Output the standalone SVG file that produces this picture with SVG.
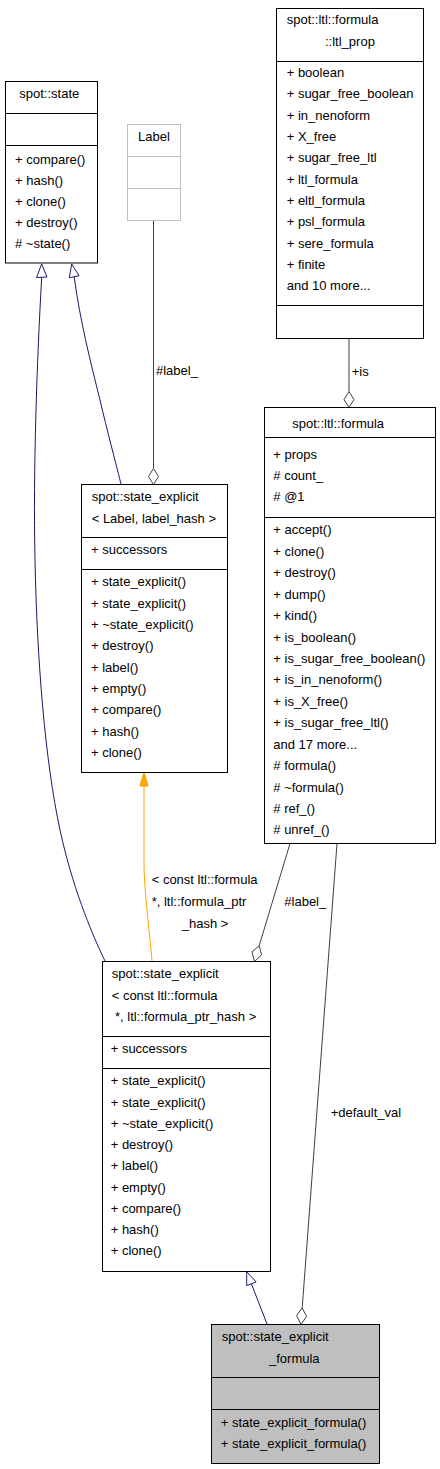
<svg xmlns="http://www.w3.org/2000/svg" width="440" height="1469" viewBox="0 0 440 1469">
<style>
text{font-family:"Liberation Sans",Arial,sans-serif;font-size:13px;fill:#000}
.box{fill:#fff;stroke:#000;stroke-width:1}
.gbox{fill:#fff;stroke:#bfbfbf;stroke-width:1}
.cur{fill:#bfbfbf;stroke:#000;stroke-width:1}
.div{stroke:#000;stroke-width:1}
.gdiv{stroke:#bfbfbf;stroke-width:1}
.gen{fill:none;stroke:#191970;stroke-width:1}
.genh{fill:#fff;stroke:#191970;stroke-width:1}
.tpl{fill:none;stroke:#ffa500;stroke-width:1}
.tplh{fill:#ffa500;stroke:#ffa500;stroke-width:1}
.use{fill:none;stroke:#404040;stroke-width:1}
.useh{fill:#fff;stroke:#404040;stroke-width:1}
.mid{text-anchor:middle}
</style>
<g id="connectors">
<path class="gen" d="M41.7,277 C37,360 33,470 35,560 C37,660 45,760 60,830 C72,885 90,930 105,961"/>
<polygon class="genh" points="41.7,264 36.5,277.5 47,277"/>
<path class="gen" d="M74.2,277 C80,320 90,360 100,400 C107,430 115,460 121,484"/>
<polygon class="genh" points="71.7,264 69.3,277.7 79.1,275.7"/>
<path class="gen" d="M251.4,1283.8 L267,1324"/>
<polygon class="genh" points="246.7,1271.7 246.7,1285.6 256.1,1282"/>
<path class="tpl" d="M144,786 L144,868 C145,900 150,935 152,961"/>
<polygon class="tplh" points="144,772 140,786 148,786"/>
<path class="use" d="M153.5,220.5 L153.5,468.5"/>
<polygon class="useh" points="153.5,484.5 148.5,476.5 153.5,468.5 158.5,476.5"/>
<path class="use" d="M349,338.5 L349,391.5"/>
<polygon class="useh" points="349,407.5 344,399.5 349,391.5 354,399.5"/>
<path class="use" d="M290,843.5 L259.2,945.7"/>
<polygon class="useh" points="254.5,961.5 252,951.9 259.2,945.7 261.6,954.9"/>
<path class="use" d="M337,843.5 L302.2,1308"/>
<polygon class="useh" points="301,1324.5 296.6,1315.6 302.2,1308 306.6,1316.4"/>
<text x="156" y="375">#label_</text>
<text x="351.7" y="376">+is</text>
<text x="151.7" y="883.6">&lt; const ltl::formula</text>
<text x="151.7" y="906">*, ltl::formula_ptr</text>
<text x="181.7" y="927.6">_hash &gt;</text>
<text x="284.3" y="906">#label_</text>
<text x="330.7" y="1117">+default_val</text>
</g>
<g id="node_state">
<rect class="box" x="5.5" y="81.5" width="92" height="181.5"/>
<line class="div" x1="5.5" y1="113.5" x2="97.5" y2="113.5"/>
<line class="div" x1="5.5" y1="145.5" x2="97.5" y2="145.5"/>
<text x="19.3" y="98">spot::state</text>
<text x="15" y="163.5">+ compare()</text>
<text x="15" y="184.7">+ hash()</text>
<text x="15" y="205.9">+ clone()</text>
<text x="15" y="227.1">+ destroy()</text>
<text x="15" y="248.3"># ~state()</text>
</g>
<g id="node_label">
<rect class="gbox" x="127.5" y="124.5" width="53" height="96"/>
<line class="gdiv" x1="127.5" y1="156.5" x2="180.5" y2="156.5"/>
<line class="gdiv" x1="127.5" y1="188.5" x2="180.5" y2="188.5"/>
<text class="mid" x="154" y="141">Label</text>
</g>
<g id="node_ltl_prop">
<rect class="box" x="276.5" y="8.5" width="147" height="330"/>
<line class="div" x1="276.5" y1="61.5" x2="423.5" y2="61.5"/>
<line class="div" x1="276.5" y1="305.5" x2="423.5" y2="305.5"/>
<text x="286.7" y="24.3">spot::ltl::formula</text>
<text x="325" y="46">::ltl_prop</text>
<text x="286.7" y="77">+ boolean</text>
<text x="286.7" y="98.3">+ sugar_free_boolean</text>
<text x="286.7" y="119.7">+ in_nenoform</text>
<text x="286.7" y="141">+ X_free</text>
<text x="286.7" y="162.3">+ sugar_free_ltl</text>
<text x="286.7" y="183.7">+ ltl_formula</text>
<text x="286.7" y="205">+ eltl_formula</text>
<text x="286.7" y="226.3">+ psl_formula</text>
<text x="286.7" y="247.7">+ sere_formula</text>
<text x="286.7" y="269">+ finite</text>
<text x="286.7" y="290.3">and 10 more...</text>
</g>
<g id="node_state_explicit_label">
<rect class="box" x="81.5" y="484.5" width="146" height="288"/>
<line class="div" x1="81.5" y1="537.5" x2="227.5" y2="537.5"/>
<line class="div" x1="81.5" y1="569.5" x2="227.5" y2="569.5"/>
<text x="91.7" y="501.3">spot::state_explicit</text>
<text x="91.7" y="523.3">&lt; Label, label_hash &gt;</text>
<text x="91" y="554.3">+ successors</text>
<text x="91" y="586.3">+ state_explicit()</text>
<text x="91" y="607.6">+ state_explicit()</text>
<text x="91" y="629">+ ~state_explicit()</text>
<text x="91" y="650.3">+ destroy()</text>
<text x="91" y="671.6">+ label()</text>
<text x="91" y="693">+ empty()</text>
<text x="91" y="714.3">+ compare()</text>
<text x="91" y="735.6">+ hash()</text>
<text x="91" y="757">+ clone()</text>
</g>
<g id="node_formula">
<rect class="box" x="264.5" y="407.5" width="171" height="436"/>
<line class="div" x1="264.5" y1="437.5" x2="435.5" y2="437.5"/>
<line class="div" x1="264.5" y1="517.5" x2="435.5" y2="517.5"/>
<text x="292.3" y="427.6">spot::ltl::formula</text>
<text x="273.3" y="458.6">+ props</text>
<text x="273.3" y="479.8">#&#160;count_</text>
<text x="273.3" y="501"># @1</text>
<text x="273.3" y="534.3">+ accept()</text>
<text x="273.3" y="555.7">+ clone()</text>
<text x="273.3" y="577.2">+ destroy()</text>
<text x="273.3" y="598.6">+ dump()</text>
<text x="273.3" y="620">+ kind()</text>
<text x="273.3" y="641.5">+ is_boolean()</text>
<text x="273.3" y="662.9">+ is_sugar_free_boolean()</text>
<text x="273.3" y="684.3">+ is_in_nenoform()</text>
<text x="273.3" y="705.7">+ is_X_free()</text>
<text x="273.3" y="727.2">+ is_sugar_free_ltl()</text>
<text x="273.3" y="748.6">and 17 more...</text>
<text x="273.3" y="770"># formula()</text>
<text x="273.3" y="791.5"># ~formula()</text>
<text x="273.3" y="812.9"># ref_()</text>
<text x="273.3" y="834.3"># unref_()</text>
</g>
<g id="node_state_explicit_formula_ptr">
<rect class="box" x="102.5" y="961.5" width="168" height="310"/>
<line class="div" x1="102.5" y1="1036.5" x2="270.5" y2="1036.5"/>
<line class="div" x1="102.5" y1="1068.5" x2="270.5" y2="1068.5"/>
<text x="111.7" y="978.3">spot::state_explicit</text>
<text x="111.7" y="999.6">&lt; const ltl::formula</text>
<text x="115" y="1021"> *, ltl::formula_ptr_hash &gt;</text>
<text x="110.7" y="1053.3">+ successors</text>
<text x="110.7" y="1085.3">+ state_explicit()</text>
<text x="110.7" y="1106.5">+ state_explicit()</text>
<text x="110.7" y="1127.8">+ ~state_explicit()</text>
<text x="110.7" y="1149">+ destroy()</text>
<text x="110.7" y="1170.3">+ label()</text>
<text x="110.7" y="1191.5">+ empty()</text>
<text x="110.7" y="1212.8">+ compare()</text>
<text x="110.7" y="1234">+ hash()</text>
<text x="110.7" y="1255.3">+ clone()</text>
</g>
<g id="node_state_explicit_formula">
<rect class="cur" x="211.5" y="1324.5" width="168" height="139"/>
<line class="div" x1="211.5" y1="1377.5" x2="379.5" y2="1377.5"/>
<line class="div" x1="211.5" y1="1409.5" x2="379.5" y2="1409.5"/>
<text x="221.7" y="1341.3">spot::state_explicit</text>
<text x="269" y="1363.3">_formula</text>
<text x="220.7" y="1427.3">+ state_explicit_formula()</text>
<text x="220.7" y="1448.3">+ state_explicit_formula()</text>
</g>
</svg>
